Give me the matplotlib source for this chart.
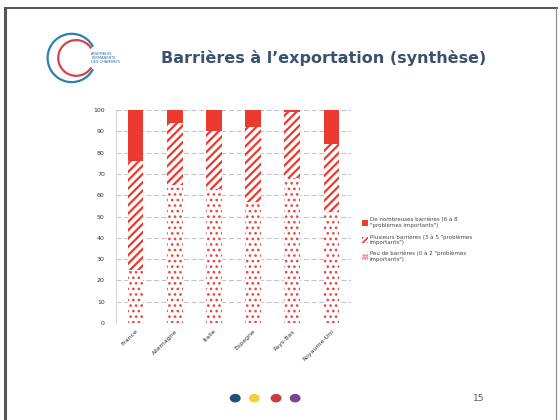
import matplotlib.pyplot as plt
from matplotlib.patches import Patch, Arc, Circle
from matplotlib.lines import Line2D

pays = ['France', 'Allemagne', 'Italie', 'Espagne', 'Pays-Bas', 'Royaume-Uni']
peu = [25, 65, 63, 57, 68, 52]          # 0 a 2 problemes importants
plusieurs = [51, 29, 27, 35, 31, 32]    # 3 a 5
nombreuses = [24, 6, 10, 8, 1, 16]      # 6 a 8

labels = [
    'De nombreuses barrières (6 à 8\n"problèmes importants")',
    'Plusieurs barrières (3 à 5 "problèmes\nimportants")',
    'Peu de barrières (0 à 2 "problèmes\nimportants")',
]

rouge = '#ec3a30'

fig = plt.figure(figsize=(5.6, 4.2), dpi=100)
fig.patch.set_facecolor('white')

# cadre de la diapo
fig.add_artist(Line2D([0.009, 0.009], [0, 0.981], color='#555555', lw=2.2))
fig.add_artist(Line2D([0.009, 0.995], [0.981, 0.981], color='#555555', lw=1.4))
fig.add_artist(Line2D([0.993, 0.993], [0, 0.981], color='#888888', lw=0.8))

# logo
fig.add_artist(Arc((0.128, 0.862), 0.086, 0.115, theta1=35, theta2=325,
                   color='#2f7fb5', lw=1.6, transform=fig.transFigure))
fig.add_artist(Arc((0.136, 0.862), 0.064, 0.085, theta1=40, theta2=320,
                   color='#d9434a', lw=1.6, transform=fig.transFigure))
fig.text(0.163, 0.862, 'ASSEMBLÉE\nPERMANENTE\nDES CHAMBRES', fontsize=2.6,
         color='#2f6fa8', va='center', ha='left', linespacing=1.1)

fig.text(0.287, 0.862, 'Barrières à l\u2019exportation (synthèse)', fontsize=11.5,
         fontweight='bold', color='#3b5170', va='center', ha='left')

ax = fig.add_axes([0.207, 0.231, 0.420, 0.507])
x = range(len(pays))
w = 0.4

plt.rcParams['hatch.linewidth'] = 1.1
ax.bar(x, peu, w, color='white', edgecolor='#e8463e', hatch='...', linewidth=0)
plt.rcParams['hatch.linewidth'] = 1.6
ax.bar(x, plusieurs, w, bottom=peu, color='white', edgecolor=rouge,
       hatch='////', linewidth=0)
bas = [a + b for a, b in zip(peu, plusieurs)]
ax.bar(x, nombreuses, w, bottom=bas, color=rouge, linewidth=0)

ax.set_xlim(-0.5, 5.5)
ax.set_ylim(0, 100)
ax.set_yticks(range(0, 101, 10))
ax.set_axisbelow(True)
ax.grid(axis='y', color='#b8b8b8', lw=0.6, ls=(0, (6, 3)))
for s in ['top', 'right', 'bottom']:
    ax.spines[s].set_visible(False)
ax.spines['left'].set_color('#cfcfcf')
ax.spines['left'].set_linewidth(0.6)
ax.tick_params(length=0, labelsize=4.5, labelcolor='#333333', pad=8)
ax.set_xticks(list(x))
ax.set_xticklabels(pays, rotation=45, ha='right', rotation_mode='anchor')
ax.tick_params(axis='x', pad=4)

plt.rcParams['hatch.linewidth'] = 1.2
poignees = [
    Patch(facecolor=rouge, edgecolor=rouge, lw=0),
    Patch(facecolor='white', edgecolor=rouge, hatch='//////', lw=0),
    Patch(facecolor='white', edgecolor=rouge, hatch='......', lw=0),
]
fig.legend(poignees, labels, loc='center left', bbox_to_anchor=(0.638, 0.43),
           frameon=False, fontsize=4.0, handlelength=1.0, handleheight=1.2,
           handletextpad=0.3, labelspacing=1.0, labelcolor='#444444')

# puces de bas de page
for cx, c in zip([0.420, 0.454, 0.493, 0.527],
                 ['#1e4f77', '#f4d03a', '#cc3a42', '#7a4395']):
    fig.add_artist(Circle((cx, 0.052), 0.0085, color=c,
                          transform=fig.transFigure))
fig.text(0.855, 0.052, '15', fontsize=6.5, color='#555555', ha='center',
         va='center')

fig.savefig('out.png', dpi=100)
